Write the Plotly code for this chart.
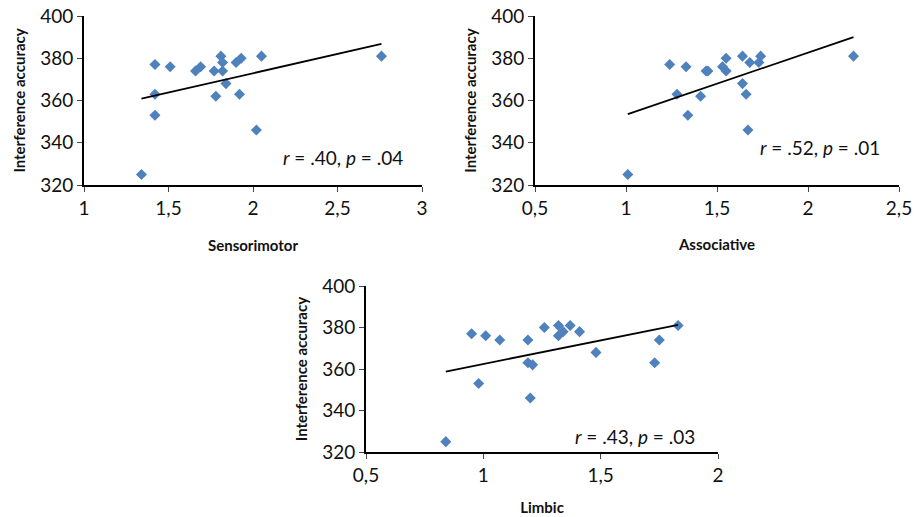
import numpy as np
import plotly.graph_objects as go

# ---- data ----
sensorimotor_x = [1.34, 1.42, 1.42, 1.42, 1.51, 1.66, 1.69, 1.77, 1.78, 1.81, 1.82, 1.82, 1.84, 1.90, 1.93, 1.92, 2.02, 2.05, 2.76]
sensorimotor_y = [325, 377, 363, 353, 376, 374, 376, 374, 362, 381, 378, 374, 368, 378, 380, 363, 346, 381, 381]

associative_x = [1.01, 1.24, 1.28, 1.33, 1.34, 1.41, 1.44, 1.45, 1.53, 1.55, 1.55, 1.64, 1.64, 1.66, 1.68, 1.67, 1.73, 1.74, 2.25]
associative_y = [325, 377, 363, 376, 353, 362, 374, 374, 376, 380, 374, 381, 368, 363, 378, 346, 378, 381, 381]

limbic_x = [0.84, 0.95, 1.01, 1.07, 0.98, 1.19, 1.19, 1.21, 1.20, 1.26, 1.32, 1.32, 1.34, 1.37, 1.41, 1.48, 1.73, 1.75, 1.83]
limbic_y = [325, 377, 376, 374, 353, 374, 363, 362, 346, 380, 381, 376, 378, 381, 378, 368, 363, 374, 381]

panel_names = ["Sensorimotor", "Associative", "Limbic"]
stats_text = ["<i>r</i> = .40, <i>p</i> = .04", "<i>r</i> = .52, <i>p</i> = .01", "<i>r</i> = .43, <i>p</i> = .03"]
x_ranges = [[1, 3], [0.5, 2.5], [0.5, 2]]
y_range = [320, 400]
y_title = "Interference accuracy"

W, H = 916, 517
MARKER_COLOR = "#4F81BD"
FAMILY = "Lato, Open Sans, sans-serif"
TICK_FONT = dict(family=FAMILY, size=19, color="#111111")
TITLE_FONT = dict(family=FAMILY, size=15, color="#111111")

def px(v):
    return v / W

def py(v):
    return 1 - v / H

# pixel boxes (left, right, top, bottom)
boxes = [(84, 422, 16, 185), (535, 899, 16, 185), (366, 718, 286, 452)]
x_title_standoff = [23, 22, 18]

fig = go.Figure()
datasets = [(sensorimotor_x, sensorimotor_y), (associative_x, associative_y), (limbic_x, limbic_y)]

for i, ((xs, ys), box) in enumerate(zip(datasets, boxes)):
    n = "" if i == 0 else str(i + 1)
    xa, ya = "x" + n, "y" + n
    fig.add_trace(go.Scatter(
        x=xs, y=ys, mode="markers", xaxis=xa, yaxis=ya,
        marker=dict(symbol="diamond", size=8.5, color=MARKER_COLOR, line=dict(width=0)),
        showlegend=False, hoverinfo="skip"))
    slope, intercept = np.polyfit(xs, ys, 1)
    lx = np.array([min(xs), max(xs)])
    fig.add_trace(go.Scatter(
        x=lx, y=slope * lx + intercept, mode="lines", xaxis=xa, yaxis=ya,
        line=dict(color="black", width=1.8), showlegend=False, hoverinfo="skip"))
    l, r, t, b = box
    axis_common = dict(
        showline=True, linecolor="black", linewidth=1.8, ticks="outside",
        ticklen=5, tickcolor="#444444", tickwidth=1, showgrid=False, zeroline=False,
        tickfont=TICK_FONT, automargin=False)
    fig.update_layout(**{
        "xaxis" + n: dict(domain=[px(l), px(r)], range=x_ranges[i], dtick=0.5,
                          anchor=ya, title=dict(text="<b>" + panel_names[i] + "</b>",
                                                font=TITLE_FONT, standoff=x_title_standoff[i]),
                          **axis_common),
        "yaxis" + n: dict(domain=[py(b), py(t)], range=y_range, dtick=20,
                          anchor=xa, title=dict(text="<b>" + y_title + "</b>",
                                                font=TITLE_FONT, standoff=11),
                          **axis_common),
    })

# statistics annotations (right-aligned within each panel)
ann_pos = [(405, 157), (882, 148), (697, 436)]
for (ax_, ay_), txt in zip(ann_pos, stats_text):
    fig.add_annotation(x=px(ax_), y=py(ay_), xref="paper", yref="paper",
                       text=txt, showarrow=False, xanchor="right", yanchor="middle",
                       font=dict(family=FAMILY, size=19, color="#111111"))

fig.update_layout(
    width=W, height=H, margin=dict(l=0, r=0, t=0, b=0),
    paper_bgcolor="white", plot_bgcolor="white",
    separators=", ", template="none",
)

fig.write_html("out.html", config={"displayModeBar": False},
               post_script="document.body.style.margin='0';")
